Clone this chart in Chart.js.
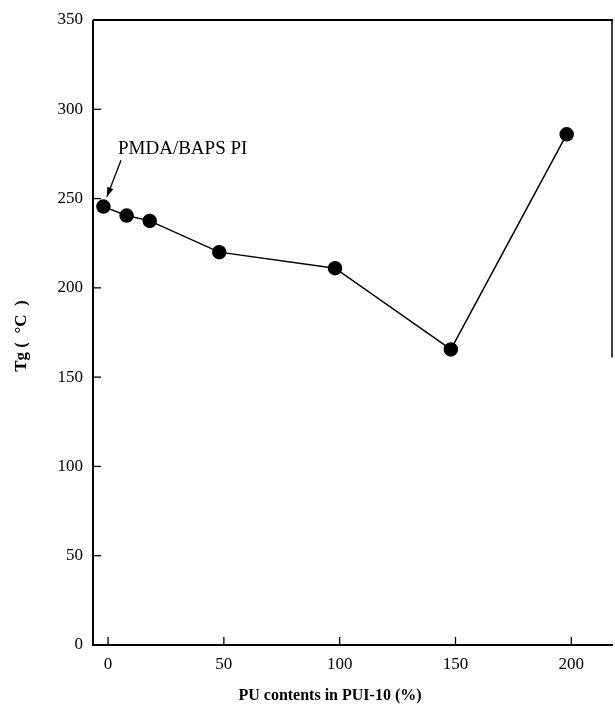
<!DOCTYPE html>
<html>
<head>
<meta charset="utf-8">
<script src="https://cdn.jsdelivr.net/npm/chart.js@4"></script>
<style>
  html, body { margin: 0; padding: 0; background: #fff; }
  #wrap { width: 615px; height: 705px; }
</style>
</head>
<body>
<div id="wrap"><canvas id="tgChart" width="615" height="705"></canvas></div>
<script>
// data
const puContent = [-2, 8, 18, 48, 98, 148, 198];
const tgValues = [245.5, 240.5, 237.5, 220, 211, 165.5, 286];
const xTicks = [0, 50, 100, 150, 200];
const yTicks = [0, 50, 100, 150, 200, 250, 300, 350];
const noteText = "PMDA/BAPS PI";
const xTitle = "PU contents in PUI-10 (%)";
const yTitle = "Tg (  °C  )";

const FONT = "'Liberation Serif', 'DejaVu Serif', serif";

// frame, inward ticks, axis titles, arrow note
const framePlugin = {
  id: "frame",
  afterDraw(chart) {
    const c = chart.ctx;
    const a = chart.chartArea;
    const xs = chart.scales.x, ys = chart.scales.y;
    c.save();
    c.strokeStyle = "#000";
    c.fillStyle = "#000";
    c.lineCap = "butt";
    // left + bottom axes
    c.lineWidth = 2;
    c.beginPath();
    c.moveTo(a.left, a.top);
    c.lineTo(a.left, a.bottom);
    c.lineTo(a.right, a.bottom);
    c.stroke();
    // top border
    c.beginPath();
    c.moveTo(a.left, a.top);
    c.lineTo(a.right, a.top);
    c.stroke();
    // right border (partial in scan)
    c.lineWidth = 1.5;
    c.beginPath();
    c.moveTo(a.right - 1, a.top);
    c.lineTo(a.right - 1, ys.getPixelForValue(161));
    c.stroke();
    // inward ticks
    c.lineWidth = 1.3;
    yTicks.forEach(v => {
      const y = ys.getPixelForValue(v);
      c.beginPath();
      c.moveTo(a.left, y);
      c.lineTo(a.left + 8, y);
      c.stroke();
    });
    xTicks.forEach(v => {
      const x = xs.getPixelForValue(v);
      c.beginPath();
      c.moveTo(x, a.bottom);
      c.lineTo(x, a.bottom - 8);
      c.stroke();
    });
    // axis titles
    c.font = "bold 16px " + FONT;
    c.textAlign = "center";
    c.textBaseline = "middle";
    c.fillText(xTitle, 330, 696);
    c.save();
    c.translate(22, 336);
    c.rotate(-Math.PI / 2);
    c.font = "bold 17px " + FONT;
    c.fillText(yTitle, 0, 0);
    c.restore();
    // note + arrow
    c.font = "19px " + FONT;
    c.textAlign = "left";
    c.fillText(noteText, xs.getPixelForValue(4.3), ys.getPixelForValue(278));
    const x1 = xs.getPixelForValue(5.6), y1 = ys.getPixelForValue(271.5);
    const x2 = xs.getPixelForValue(-0.5), y2 = ys.getPixelForValue(251);
    c.lineWidth = 1.3;
    c.beginPath();
    c.moveTo(x1, y1);
    c.lineTo(x2, y2);
    c.stroke();
    const ang = Math.atan2(y2 - y1, x2 - x1);
    const L = 10, W = 0.33;
    c.beginPath();
    c.moveTo(x2, y2);
    c.lineTo(x2 - L * Math.cos(ang - W), y2 - L * Math.sin(ang - W));
    c.lineTo(x2 - L * Math.cos(ang + W), y2 - L * Math.sin(ang + W));
    c.closePath();
    c.fill();
    c.restore();
  }
};

const ctx = document.getElementById("tgChart").getContext("2d");
const tgChart = new Chart(ctx, {
  type: "scatter",
  data: {
    datasets: [{
      label: "Tg",
      data: puContent.map((x, i) => ({ x: x, y: tgValues[i] })),
      showLine: true,
      borderColor: "#000",
      borderWidth: 1.5,
      backgroundColor: "#000",
      pointBackgroundColor: "#000",
      pointBorderColor: "#000",
      pointRadius: 6.5,
      pointHoverRadius: 6.5,
      tension: 0,
      clip: false,
    }],
  },
  options: {
    responsive: false,
    animation: false,
    events: [],
    layout: { autoPadding: false, padding: { top: 20, right: 2, left: 0, bottom: 0 } },
    plugins: {
      legend: { display: false },
      tooltip: { enabled: false },
    },
    scales: {
      x: {
        type: "linear",
        min: -6.5,
        max: 218,
        afterBuildTicks: s => { s.ticks = xTicks.map(v => ({ value: v })); },
        afterFit: s => { s.height = 60; s.paddingLeft = 0; s.paddingRight = 0; },
        grid: { display: false, drawTicks: false },
        border: { display: false },
        ticks: { color: "#000", font: { family: FONT, size: 17 }, padding: 9 },
      },
      y: {
        min: 0,
        max: 350,
        afterBuildTicks: s => { s.ticks = yTicks.map(v => ({ value: v })); },
        afterFit: s => { s.width = 93; s.paddingTop = 0; s.paddingBottom = 0; },
        grid: { display: false, drawTicks: false },
        border: { display: false },
        ticks: { color: "#000", font: { family: FONT, size: 17 }, padding: 10 },
      },
    },
  },
  plugins: [framePlugin],
});
</script>
</body>
</html>
